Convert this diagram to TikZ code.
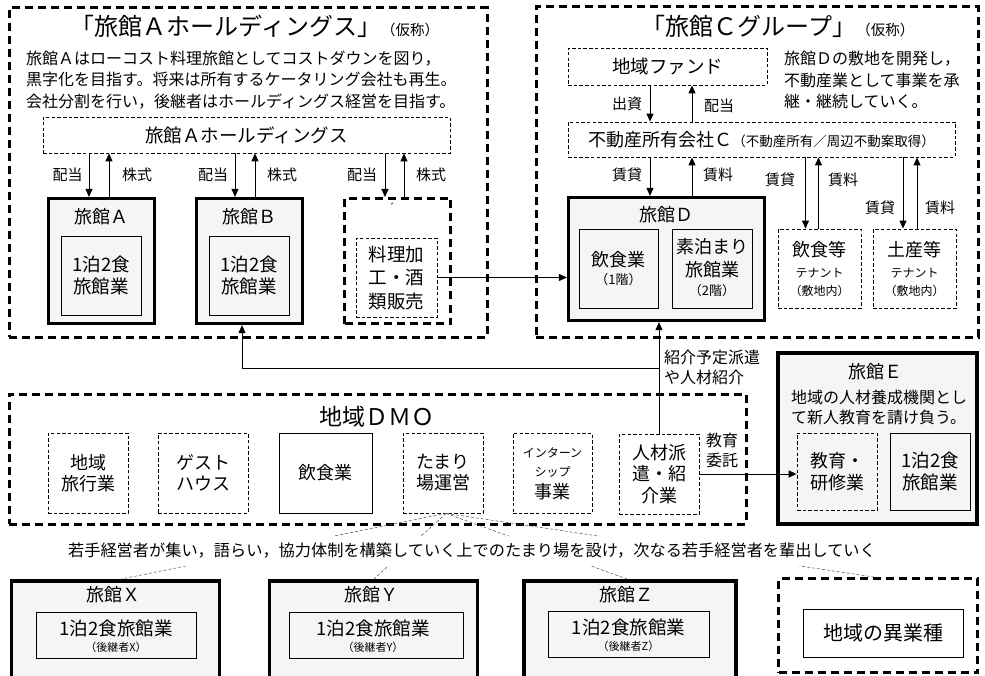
\documentclass[tikz,border=0pt]{standalone}
\usepackage{fontspec}
\setmainfont{Noto Sans CJK JP}
\usetikzlibrary{arrows.meta}
\newcommand\fs[2]{\fontsize{#1}{#2}\selectfont}
\tikzset{
  grp/.style={draw, line width=3pt, dash pattern=on 8pt off 5pt, inner sep=0pt},
  ryo/.style={draw, line width=3.2pt, fill=black!4, inner sep=0pt},
  inb/.style={draw, line width=0.9pt, fill=black!4, inner sep=0pt, align=center},
  sbox/.style={draw, line width=0.9pt, inner sep=0pt, align=center},
  dbox/.style={draw, line width=0.8pt, dash pattern=on 3.5pt off 2.2pt, inner sep=0pt, align=center},
  arr/.style={line width=0.9pt, -{Triangle[length=8pt,width=7pt]}},
  fan/.style={line width=0.5pt, black!70, dash pattern=on 3pt off 2pt},
  lbl/.style={inner sep=0pt, font=\fs{15}{15}},
  ttl/.style={inner sep=0pt, font=\fs{18}{18}},
  txt/.style={inner sep=0pt, align=left},
  ctx/.style={inner sep=0pt, align=center},
}
\begin{document}
\begin{tikzpicture}[x=1pt,y=-1pt]
\useasboundingbox (0,0) rectangle (985,676);
\clip (0,0) rectangle (985,676);

% ---------------- group A ----------------
\node[grp, minimum width=478pt, minimum height=329pt] (gA) at (248,172.5) {};
\node[inner sep=0pt] (tA) at (255,26) {\fs{24}{24}「旅館Ａホールディングス」\fs{14.5}{14.5}（仮称）};
\node[txt, anchor=west, font=\fs{16}{21.5}] (descA) at (26,80) {旅館Ａはローコスト料理旅館としてコストダウンを図り，\\黒字化を目指す。将来は所有するケータリング会社も再生。\\会社分割を行い，後継者はホールディングス経営を目指す。};
\node[dbox, minimum width=407pt, minimum height=36pt, font=\fs{18.5}{18.5}] (hold) at (246.5,135) {旅館Ａホールディングス};

\node[ryo, minimum width=106pt, minimum height=125pt] (rA) at (101.5,261) {};
\node[ttl] (rAt) at (101,217) {旅館Ａ};
\node[inb, minimum width=80pt, minimum height=79pt, font=\fs{18.5}{22}] (rAi) at (101,275.5) {1泊2食\\旅館業};

\node[ryo, minimum width=106pt, minimum height=125pt] (rB) at (249.5,261) {};
\node[ttl] (rBt) at (249,217) {旅館Ｂ};
\node[inb, minimum width=80pt, minimum height=79pt, font=\fs{18.5}{22}] (rBi) at (249,275.5) {1泊2食\\旅館業};

\node[grp, minimum width=106pt, minimum height=125pt] (cat) at (397.5,261) {};
\node[inner sep=0pt, font=\fs{9}{9}] (mark) at (395,207) {゛};
\node[dbox, minimum width=81pt, minimum height=79pt, font=\fs{18.5}{23.5}] (ryori) at (396.5,277.5) {料理加\\工・酒\\類販売};

\draw[arr] ([xshift=-12.5pt]rA.north |- hold.south) -- ([xshift=-12.5pt]rA.north);
\draw[arr] ([xshift=7.5pt]rA.north) -- ([xshift=7.5pt]rA.north |- hold.south);
\draw[arr] ([xshift=-14.5pt]rB.north |- hold.south) -- ([xshift=-14.5pt]rB.north);
\draw[arr] ([xshift=5.5pt]rB.north) -- ([xshift=5.5pt]rB.north |- hold.south);
\draw[arr] ([xshift=-12.5pt]cat.north |- hold.south) -- ([xshift=-12.5pt]cat.north);
\draw[arr] ([xshift=6.5pt]cat.north) -- ([xshift=6.5pt]cat.north |- hold.south);
\node[lbl] (l1) at (67.5,175) {配当};
\node[lbl] (l2) at (137,175) {株式};
\node[lbl] (l3) at (213,175) {配当};
\node[lbl] (l4) at (282,175) {株式};
\node[lbl] (l5) at (362,175) {配当};
\node[lbl] (l6) at (431,175) {株式};

% ---------------- group C ----------------
\node[grp, minimum width=442pt, minimum height=330pt] (gC) at (757,172) {};
\node[inner sep=0pt] (tC) at (778,26) {\fs{24}{24}「旅館Ｃグループ」\fs{14.5}{14.5}（仮称）};
\node[dbox, minimum width=199pt, minimum height=37pt, font=\fs{18.5}{18.5}] (fund) at (667.5,66.5) {地域ファンド};
\node[txt, anchor=west, font=\fs{16}{21.5}] (descC) at (784,80) {旅館Ｄの敷地を開発し，\\不動産業として事業を承\\継・継続していく。};
\node[dbox, minimum width=387pt, minimum height=35pt] (fudo) at (761.5,139.5) {\fs{18}{18}不動産所有会社Ｃ\fs{13.5}{13.5}（不動産所有／周辺不動案取得）};

\draw[arr] ([xshift=-17.5pt]fund.south) -- ([xshift=-17.5pt]fund.south |- fudo.north);
\draw[arr] ([xshift=24.5pt]fund.south |- fudo.north) -- ([xshift=24.5pt]fund.south);
\node[lbl] (l7) at (627,104) {出資};
\node[lbl] (l8) at (719,106) {配当};

\node[ryo, minimum width=196pt, minimum height=123pt] (rD) at (666.5,259) {};
\node[ttl] (rDt) at (666,215) {旅館Ｄ};
\node[inb, minimum width=79pt, minimum height=79pt] (dfood) at (618.5,268.5) {};
\node[ctx, font=\fs{18}{18}] at (618.5,260) {飲食業};
\node[ctx, font=\fs{13}{13}] at (618.5,280) {（1階）};
\node[inb, minimum width=80pt, minimum height=79pt] (dstay) at (712,268.5) {};
\node[ctx, font=\fs{18}{18}] at (712,247) {素泊まり};
\node[ctx, font=\fs{18}{18}] at (712,270) {旅館業};
\node[ctx, font=\fs{13}{13}] at (712,291) {（2階）};

\draw[arr] ([xshift=-16.5pt]rD.north |- fudo.south) -- ([xshift=-16.5pt]rD.north);
\draw[arr] ([xshift=25.5pt]rD.north) -- ([xshift=25.5pt]rD.north |- fudo.south);
\node[lbl] (l9) at (627,175) {賃貸};
\node[lbl] (l10) at (718,175) {賃料};

\node[dbox, minimum width=83pt, minimum height=79pt] (ten1) at (819.5,268.5) {};
\node[ctx, font=\fs{18}{18}] at (819.5,250) {飲食等};
\node[ctx, font=\fs{12}{12}] at (819.5,273) {テナント};
\node[ctx, font=\fs{12}{12}] at (819.5,291) {（敷地内）};
\node[dbox, minimum width=83pt, minimum height=79pt] (ten2) at (914.5,268.5) {};
\node[ctx, font=\fs{18}{18}] at (914.5,250) {土産等};
\node[ctx, font=\fs{12}{12}] at (914.5,273) {テナント};
\node[ctx, font=\fs{12}{12}] at (914.5,291) {（敷地内）};

\draw[arr] ([xshift=-14pt]ten1.north |- fudo.south) -- ([xshift=-14pt]ten1.north);
\draw[arr] ([xshift=-1pt]ten1.north) -- ([xshift=-1pt]ten1.north |- fudo.south);
\draw[arr] ([xshift=-11.5pt]ten2.north |- fudo.south) -- ([xshift=-11.5pt]ten2.north);
\draw[arr] ([xshift=2.5pt]ten2.north) -- ([xshift=2.5pt]ten2.north |- fudo.south);
\node[lbl] (l11) at (780,180) {賃貸};
\node[lbl] (l12) at (843,180) {賃料};
\node[lbl] (l13) at (880,208) {賃貸};
\node[lbl] (l14) at (940,208) {賃料};

\draw[arr] (ryori.east) -- (ryori.east -| rD.west);

% ---------------- DMO ----------------
\node[grp, minimum width=737pt, minimum height=130pt] (dmo) at (377.5,459) {};
\node[inner sep=0pt, font=\fs{23}{23}] (dmot) at (377,417) {地域ＤＭＯ};
\node[dbox, minimum width=80pt, minimum height=80pt, font=\fs{18}{21}] (trav) at (88,473) {地域\\旅行業};
\node[dbox, minimum width=90pt, minimum height=80pt, font=\fs{18}{21}] (guest) at (203,473) {ゲスト\\ハウス};
\node[sbox, minimum width=93pt, minimum height=80pt, font=\fs{18}{18}] (food) at (325.5,473) {飲食業};
\node[dbox, minimum width=80pt, minimum height=80pt, font=\fs{18}{21}] (tamari) at (443,473) {たまり\\場運営};
\node[dbox, minimum width=79pt, minimum height=80pt] (intern) at (552.5,473) {};
\node[ctx, font=\fs{12}{12}] at (552.5,453) {インターン};
\node[ctx, font=\fs{12}{12}] at (552.5,472) {シップ};
\node[ctx, font=\fs{18}{18}] at (552.5,492) {事業};
\node[dbox, minimum width=80pt, minimum height=80pt, font=\fs{18}{21.5}] (jinzai) at (659,474) {人材派\\遣・紹\\介業};
\node[ctx, font=\fs{16}{20}] (edulbl) at (722,450) {教育\\委託};

% ---------------- E ----------------
\node[ryo, minimum width=199pt, minimum height=171pt] (rE) at (877.5,438.5) {};
\node[ttl] (rEt) at (875,372) {旅館Ｅ};
\node[txt, anchor=west, font=\fs{16}{20}] (descE) at (791,407) {地域の人材養成機関とし\\て新人教育を請け負う。};
\node[dbox, minimum width=80pt, minimum height=77pt, font=\fs{18}{22}] (edu) at (837,471.5) {教育・\\研修業};
\node[inb, minimum width=80pt, minimum height=77pt, font=\fs{18.5}{22}] (rEi) at (930,471.5) {1泊2食\\旅館業};

\draw[arr] (jinzai.east) -- (jinzai.east -| edu.west);
\draw[arr] (jinzai.north) -- (jinzai.north |- rD.south);
\coordinate (br) at (659,368);
\draw[arr] (br) -| ([xshift=-7.5pt]rB.south);
\node[txt, anchor=west, font=\fs{16}{19.5}] (haken) at (664,367.5) {紹介予定派遣\\や人材紹介};

% ---------------- bottom row ----------------
\node[ryo, minimum width=208pt, minimum height=119pt] (rX) at (115.5,640.5) {};
\node[ryo, minimum width=208pt, minimum height=119pt] (rY) at (373.5,640.5) {};
\node[ryo, minimum width=212pt, minimum height=119pt] (rZ) at (630,640.5) {};
\node[grp, minimum width=199pt, minimum height=94pt] (igyo) at (878,625.5) {};

\node[ttl] (rXt) at (113.5,595) {旅館Ｘ};
\node[ttl] (rYt) at (371,595) {旅館Ｙ};
\node[ttl] (rZt) at (626,595) {旅館Ｚ};

\node[inb, minimum width=160pt, minimum height=46pt] (rXi) at (116,635) {};
\node[ctx, font=\fs{18.5}{18.5}] at (116,628) {1泊2食旅館業};
\node[ctx, font=\fs{11}{11}] at (116,647) {（後継者X）};
\node[inb, minimum width=174pt, minimum height=46pt] (rYi) at (376,635) {};
\node[ctx, font=\fs{18.5}{18.5}] at (373,628) {1泊2食旅館業};
\node[ctx, font=\fs{11}{11}] at (373,647) {（後継者Y）};
\node[inb, minimum width=161pt, minimum height=46pt] (rZi) at (628.5,634) {};
\node[ctx, font=\fs{18.5}{18.5}] at (628.5,627) {1泊2食旅館業};
\node[ctx, font=\fs{11}{11}] at (628.5,646) {（後継者Z）};
\node[sbox, minimum width=160pt, minimum height=48pt, font=\fs{20}{20}] (igyoi) at (883,633) {地域の異業種};

\draw[fan] ([xshift=3pt]tamari.south) -- ([xshift=4pt]rX.north);
\draw[fan] ([xshift=3pt]tamari.south) -- (rY.north);
\draw[fan] ([xshift=3pt]tamari.south) -- ([xshift=-2pt]rZ.north);
\draw[fan] ([xshift=3pt]tamari.south) -- ([xshift=-4pt]igyo.north);
\node[fill=white, inner xsep=2pt, inner ysep=7pt, font=\fs{16.2}{16.2}] (msg) at (472,551) {若手経営者が集い，語らい，協力体制を構築していく上でのたまり場を設け，次なる若手経営者を輩出していく};
\end{tikzpicture}
\end{document}
